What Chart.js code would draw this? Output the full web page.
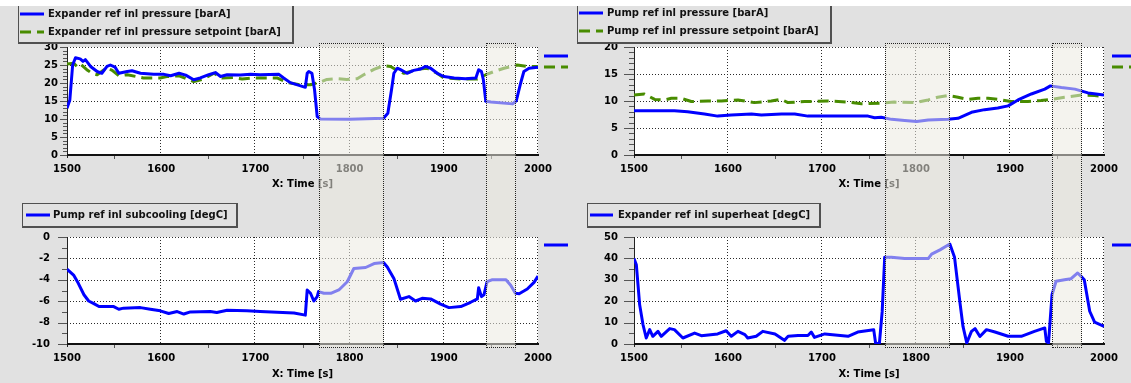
<!DOCTYPE html>
<html><head><meta charset="utf-8">
<script src="https://cdn.jsdelivr.net/npm/chart.js@4.4.1/dist/chart.umd.min.js"></script>
<style>
html,body{margin:0;padding:0;}
body{width:1131px;height:383px;background:#e1e1e1;position:relative;overflow:hidden;font:bold 10px "DejaVu Sans",sans-serif;color:#111;}
canvas{position:absolute;}
.lgbox{position:absolute;box-sizing:border-box;border-style:solid;border-color:#505050;border-width:1px 2px 2px 1px;}
.lgtxt{position:absolute;white-space:nowrap;line-height:14px;}
.hl{position:absolute;box-sizing:border-box;background:rgba(235,233,224,0.55);border:1px dotted #222;pointer-events:none;z-index:5;}
#strip{position:absolute;left:0;top:0;width:1131px;height:6px;background:#fff;z-index:9;}
#lgsvg{position:absolute;left:0;top:0;z-index:3;pointer-events:none;}
</style></head><body>
<canvas id="c1" width="572" height="190" style="left:0;top:0"></canvas>
<canvas id="c2" width="559" height="190" style="left:572px;top:0"></canvas>
<canvas id="c3" width="572" height="193" style="left:0;top:190px"></canvas>
<canvas id="c4" width="559" height="193" style="left:572px;top:190px"></canvas>
<svg id="lgsvg" width="1131" height="383"></svg>
<div id="strip"></div>
<script>
// ---------- data ----------
const xTicks = [1500, 1600, 1700, 1800, 1900, 2000];
const highlightRanges = [[1767, 1836], [1945, 1977]];

const expPressT = [
  1500,1503,1506,1509,1514,1517,1519.5,1525,1532,1537,
  1542.5,1546,1551,1555,1564,1569,1578,1592,1603,1610,
  1619,1626,1634.5,1641.5,1650.5,1657.5,1663,1670,1684,1695,
  1705,1725,1730,1737,1748,1753,1755,1756.7,1760,1762.8,
  1765.6,1769,1800,1836,1840.6,1844.5,1847,1850.6,1854,1861,
  1868,1875.5,1880.7,1886,1893,1900,1911,1923,1934,1937,
  1940,1942,1944.6,1950,1973,1977,1981.6,1985,1990.5,2000];
const expPressV = [
  13,15.3,25,27,26.7,26.0,26.5,24.6,23.2,22.7,
  24.6,25,24.4,22.7,23.2,23.4,22.7,22.4,22.4,22,
  22.7,22.2,20.9,21.4,22.3,22.9,21.8,22.3,22.2,22.4,
  22.3,22.4,21.4,20.1,19.2,18.8,22.7,23.2,22.7,18.1,
  10.7,10,9.9,10.2,11.6,18.1,22.7,24.1,23.7,22.7,
  23.5,23.9,24.6,24.1,22.7,21.8,21.4,21.2,21.4,23.7,
  23.2,20.9,14.9,14.7,14.2,15.1,20,23.2,24.1,24.4];

const expSetT = [
  1500,1507,1510.6,1514,1521,1526.5,1532,1539,1542.5,1548,
  1555,1564,1581,1599,1606,1619,1634.5,1645,1656,1664.7,
  1677,1686,1698,1723,1734,1748,1758.5,1769,1776,1786.5,
  1797,1808,1815,1825.8,1836,1843.5,1850.6,1857.7,1864.7,1873.6,
  1882.4,1893,1900,1918,1935.7,1944.6,1953.5,1964,1978,1988.6,
  2000];
const expSetV = [
  25.3,25.5,24.6,25.3,23.7,22.7,22.3,23.6,24.2,23.5,
  22,22.3,21.4,21.4,21.8,22,20.4,21.1,22.7,21.4,
  21.5,21.1,21.4,21.4,20.1,19.5,19.5,20.3,21,21.2,
  21,21.2,22.3,23.8,24.8,24.6,23.5,22.7,23.2,23.9,
  24.1,22.7,21.4,21.1,21.1,22.3,23.2,24.1,25,24.6,
  24.6];

const pumpPressT = [
  1500,1543,1557,1575,1589,1603.5,1625,1635.5,1657,1671,
  1685,1706,1749,1756,1763,1774,1788,1800.7,1813,1834,
  1844.7,1859,1873,1887,1898,1908.5,1922.7,1937,1943,1954.6,
  1969,1983,2000];
const pumpPressV = [
  8.2,8.2,8.0,7.6,7.2,7.4,7.6,7.4,7.6,7.6,
  7.2,7.2,7.2,6.9,7.0,6.6,6.4,6.2,6.5,6.6,
  6.8,7.9,8.4,8.7,9.1,10.2,11.3,12.2,12.8,12.5,
  12.2,11.5,11.1];

const pumpSetT = [
  1500,1511,1522,1532.6,1539.7,1550,1561,1578.7,1593,1610.6,
  1628,1646,1656.7,1663.8,1681.6,1706,1727.7,1742,1763,1777,
  1798.6,1812.8,1823,1834,1844.7,1855,1866,1876.6,1887,1901,
  1919,1933,1944,1958,1976,1990,2000];
const pumpSetV = [
  11.1,11.3,10.3,10.2,10.5,10.5,9.9,10.0,10.0,10.2,
  9.7,10,10.3,9.7,9.9,10.0,9.8,9.5,9.6,9.8,
  9.7,10.2,10.7,11.0,10.7,10.3,10.5,10.5,10.3,9.9,
  9.9,10.1,10.3,10.7,11.1,11.0,10.8];

const subcoolT = [
  1500,1507,1512,1518,1523,1528,1534,1549.6,1555,1560,
  1578,1588.5,1599,1608,1617,1624,1631,1652,1659,1670,
  1691,1705,1741,1753,1755,1758.5,1762,1765.6,1767,1772.7,
  1780,1788.6,1797.5,1804.5,1817,1826,1836,1840,1847,1854,
  1863,1870,1877,1886,1896.6,1905.5,1918,1928.5,1935.6,1937,
  1940,1942.6,1946,1951,1966,1971,1976,1980,1988.6,1995.8,
  2000];
const subcoolV = [
  -3.0,-3.56,-4.33,-5.4,-5.98,-6.2,-6.5,-6.5,-6.75,-6.65,
  -6.6,-6.75,-6.9,-7.15,-6.97,-7.2,-7.0,-6.97,-7.06,-6.84,
  -6.9,-6.97,-7.1,-7.3,-4.95,-5.26,-5.98,-5.57,-5.1,-5.26,
  -5.26,-4.95,-4.18,-2.94,-2.85,-2.48,-2.38,-2.8,-3.87,-5.82,
  -5.57,-5.98,-5.73,-5.79,-6.28,-6.6,-6.5,-6.1,-5.79,-4.74,
  -5.57,-5.4,-4.18,-4.0,-4.0,-4.5,-5.26,-5.3,-4.86,-4.24,
  -3.65];

const superheatT = [
  1500,1502.5,1506,1509.6,1513,1516.7,1520,1525.5,1529,1538,
  1543,1552,1564.5,1571.6,1589,1598,1603.5,1610.6,1618,1621,
  1630,1637,1650,1660,1664,1674.5,1685,1688.6,1692,1703,
  1727.7,1738,1755,1757,1761,1764,1766.7,1773.8,1788,1813,
  1816.6,1825.5,1836,1841,1846.8,1850,1854,1859,1862.8,1868,
  1875,1884,1898,1912,1926,1937,1938.7,1941,1944.7,1949,
  1958,1965,1972,1975.6,1979,1984.8,1990,2000];
const superheatV = [
  39.9,37,18.4,9,2.8,6.7,3.6,5.9,3.6,7.2,
  6.7,2.8,5.1,3.9,4.7,6.2,3.6,5.9,4.4,2.8,
  3.6,5.9,4.7,1.7,3.6,4.0,4.0,5.6,3.1,4.7,
  3.6,5.6,6.7,0.5,0,15,40.5,40.5,39.9,39.9,
  42,44,46.7,40.5,19.2,8.2,0.5,5.9,7.2,3.5,
  6.7,5.6,3.6,3.6,5.9,7.5,1.2,0.5,23,29.3,
  30,30.5,33.2,31.6,30,15.3,10.2,8.2];

// ---------- styling ----------
const BLUE = '#0000ff';
const GREEN = 'rgb(72,140,0)';
const GREEN_DASH = [11, 6];
const FONT = {family: 'DejaVu Sans', size: 10, weight: 'bold'};

const decor = {
  id: 'decor',
  beforeDatasetsDraw(chart, args, o) {
    const {ctx, chartArea: a, scales: {x, y}} = chart;
    ctx.save();
    ctx.fillStyle = '#fff';
    ctx.fillRect(a.left, a.top, a.right - a.left, a.bottom - a.top);
    ctx.strokeStyle = '#2a2a2a'; ctx.lineWidth = 1; ctx.setLineDash([1, 2]);
    ctx.beginPath();
    y.ticks.forEach(t => {
      if (t.value === y.min) return;
      const p = Math.round(y.getPixelForValue(t.value)) + 0.5;
      ctx.moveTo(a.left, p); ctx.lineTo(a.right, p);
    });
    x.ticks.forEach(t => {
      if (t.value === x.min) return;
      const p = Math.round(x.getPixelForValue(t.value)) - 0.5;
      ctx.moveTo(p, a.top); ctx.lineTo(p, a.bottom);
    });
    ctx.stroke();
    ctx.setLineDash([]);
    ctx.strokeStyle = '#555';
    ctx.beginPath();
    const yt = y.ticks.map(t => t.value);
    for (let i = 0; i < yt.length; i++) {
      const p = Math.round(y.getPixelForValue(yt[i])) + 0.5;
      ctx.moveTo(a.left - o.tick, p); ctx.lineTo(a.left, p);
      if (i < yt.length - 1) {
        for (let k = 1; k < o.ySub; k++) {
          const v = yt[i] + (yt[i + 1] - yt[i]) * k / o.ySub;
          const q = Math.round(y.getPixelForValue(v)) + 0.5;
          ctx.moveTo(a.left - o.minor, q); ctx.lineTo(a.left, q);
        }
      }
    }
    const xt = x.ticks.map(t => t.value);
    for (let i = 0; i < xt.length - 1; i++) {
      const p = Math.round(x.getPixelForValue((xt[i] + xt[i + 1]) / 2)) + 0.5;
      ctx.moveTo(p, a.bottom); ctx.lineTo(p, a.bottom + 4);
    }
    ctx.stroke();
    ctx.strokeStyle = '#222'; ctx.lineWidth = 1;
    ctx.beginPath(); ctx.moveTo(a.left + 0.5, a.top); ctx.lineTo(a.left + 0.5, a.bottom + 3); ctx.stroke();
    ctx.strokeStyle = '#111'; ctx.lineWidth = 2;
    ctx.beginPath(); ctx.moveTo(a.left, a.bottom); ctx.lineTo(a.right + 1, a.bottom); ctx.stroke();
    ctx.restore();
  },
  afterDraw(chart, args, o) {
    const ctx = chart.ctx;
    chart.data.datasets.forEach((ds, i) => {
      ctx.save();
      ctx.strokeStyle = ds.borderColor; ctx.lineWidth = 3;
      ctx.setLineDash(ds.borderDash || []);
      ctx.beginPath(); ctx.moveTo(o.mx[0], o.my[i]); ctx.lineTo(o.mx[1], o.my[i]); ctx.stroke();
      ctx.restore();
    });
  }
};

function makeChart(id, cfg) {
  return new Chart(document.getElementById(id), {
    type: 'line',
    data: {
      datasets: cfg.series.map(s => ({
        label: s.label,
        data: s.t.map((t, i) => ({x: t, y: s.v[i]})),
        borderColor: s.color, borderWidth: 3, borderDash: s.dash || [],
        pointRadius: 0, fill: false, tension: 0, borderJoinStyle: 'round'
      }))
    },
    options: {
      responsive: false, animation: false, devicePixelRatio: 1,
      layout: {padding: {left: 0, top: cfg.top, right: cfg.right, bottom: 0}},
      plugins: {legend: {display: false}, tooltip: {enabled: false}, decor: cfg.decor},
      scales: {
        x: {
          type: 'linear', min: 1500, max: 2000,
          afterFit: s => { s.height = cfg.xh; },
          afterBuildTicks: s => { s.ticks = xTicks.map(v => ({value: v})); },
          grid: {display: false, drawTicks: false}, border: {display: false},
          ticks: {padding: cfg.xpad, font: FONT, color: '#000', maxRotation: 0, autoSkip: false, callback: v => String(v)},
          title: {display: true, text: 'X: Time [s]', font: FONT, color: '#000', padding: {top: 0, bottom: cfg.tpad}}
        },
        y: {
          type: 'linear', min: cfg.ymin, max: cfg.ymax,
          afterFit: s => { s.width = cfg.yw; },
          grid: {display: false, drawTicks: false}, border: {display: false},
          ticks: {stepSize: cfg.ystep, padding: cfg.ypad, font: FONT, color: '#000', callback: v => String(v)}
        }
      }
    },
    plugins: [decor]
  });
}

const c1 = makeChart('c1', {
  series: [
    {label: 'Expander ref inl pressure [barA]', t: expPressT, v: expPressV, color: BLUE},
    {label: 'Expander ref inl pressure setpoint [barA]', t: expSetT, v: expSetV, color: GREEN, dash: GREEN_DASH}
  ],
  top: 47, right: 34, xh: 35, xpad: 8, tpad: 0, yw: 67, ypad: 9,
  ymin: 0, ymax: 30, ystep: 5,
  decor: {tick: 7, minor: 4, ySub: 5, mx: [544, 568], my: [56, 67]}
});
const c2 = makeChart('c2', {
  series: [
    {label: 'Pump ref inl pressure [barA]', t: pumpPressT, v: pumpPressV, color: BLUE},
    {label: 'Pump ref inl pressure setpoint [barA]', t: pumpSetT, v: pumpSetV, color: GREEN, dash: GREEN_DASH}
  ],
  top: 47, right: 27, xh: 35, xpad: 8, tpad: 0, yw: 62, ypad: 16,
  ymin: 0, ymax: 20, ystep: 5,
  decor: {tick: 10, minor: 5, ySub: 5, mx: [540, 559], my: [56, 67]}
});
const c3 = makeChart('c3', {
  series: [
    {label: 'Pump ref inl subcooling [degC]', t: subcoolT, v: subcoolV, color: BLUE}
  ],
  top: 47, right: 34, xh: 39, xpad: 8.5, tpad: 3, yw: 67, ypad: 17,
  ymin: -10, ymax: 0, ystep: 2,
  decor: {tick: 9, minor: 5, ySub: 2, mx: [544, 568], my: [55]}
});
const c4 = makeChart('c4', {
  series: [
    {label: 'Expander ref inl superheat [degC]', t: superheatT, v: superheatV, color: BLUE}
  ],
  top: 47, right: 27, xh: 39, xpad: 8.5, tpad: 3, yw: 62, ypad: 16,
  ymin: 0, ymax: 50, ystep: 10,
  decor: {tick: 10, minor: 5, ySub: 2, mx: [540, 559], my: [55]}
});

// ---------- legends (HTML/SVG) ----------
const svg = document.getElementById('lgsvg');
const NS = 'http://www.w3.org/2000/svg';
function legend(chart, box) {
  const d = document.createElement('div');
  d.className = 'lgbox';
  Object.assign(d.style, {left: box.left + 'px', top: box.top + 'px', width: box.w + 'px', height: box.h + 'px'});
  document.body.appendChild(d);
  chart.data.datasets.forEach((ds, i) => {
    const y = box.rows[i];
    const ln = document.createElementNS(NS, 'line');
    ln.setAttribute('x1', box.sx[0]); ln.setAttribute('x2', box.sx[1]);
    ln.setAttribute('y1', y); ln.setAttribute('y2', y);
    ln.setAttribute('stroke', ds.borderColor); ln.setAttribute('stroke-width', 3);
    if (ds.borderDash && ds.borderDash.length) ln.setAttribute('stroke-dasharray', ds.borderDash.join(' '));
    svg.appendChild(ln);
    const s = document.createElement('span');
    s.className = 'lgtxt'; s.textContent = ds.label;
    s.style.left = box.tx + 'px'; s.style.top = (y - 7) + 'px';
    document.body.appendChild(s);
  });
}
legend(c1, {left: 18, top: -2, w: 276, h: 46, rows: [14, 32], sx: [20, 44], tx: 48});
legend(c2, {left: 577, top: -2, w: 255, h: 46, rows: [13, 31], sx: [579, 603], tx: 607});
legend(c3, {left: 22, top: 203, w: 216, h: 25, rows: [215], sx: [26, 50], tx: 53});
legend(c4, {left: 587, top: 203, w: 234, h: 25, rows: [215], sx: [590, 613], tx: 618});

// ---------- highlighted time windows ----------
function highlights(topChart, botChart, left, botTop) {
  highlightRanges.forEach(([a, b]) => {
    const x0 = left + topChart.scales.x.getPixelForValue(a);
    const x1 = left + topChart.scales.x.getPixelForValue(b);
    const y0 = topChart.chartArea.top - 4;
    const y1 = botTop + botChart.chartArea.bottom + 4;
    const d = document.createElement('div');
    d.className = 'hl';
    Object.assign(d.style, {left: Math.round(x0) + 'px', top: Math.round(y0) + 'px',
      width: Math.round(x1 - x0) + 'px', height: Math.round(y1 - y0) + 'px'});
    document.body.appendChild(d);
  });
}
highlights(c1, c3, 0, 190);
highlights(c2, c4, 572, 190);
</script>
</body></html>
